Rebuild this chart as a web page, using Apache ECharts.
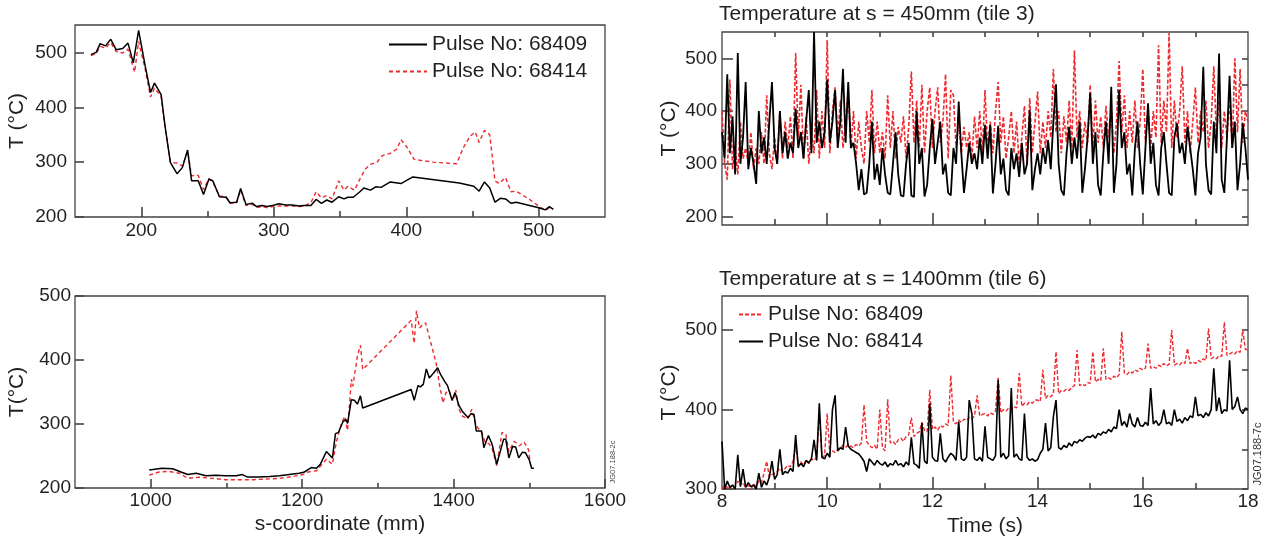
<!DOCTYPE html>
<html><head><meta charset="utf-8">
<script src="https://cdn.jsdelivr.net/npm/echarts@6/dist/echarts.min.js"></script>
<style>html,body{margin:0;padding:0;background:#fff}#c{width:1270px;height:545px}</style>
</head><body><div id="c"></div>
<script>
// ---------- Panel 1: s = 150..550 mm (tiles 1-4) ----------
const p1_68409 = [[162,496],[166,500],[169,516],[173,512],[177,524],[181,505],[186,507],[190,517],[194,481],[198,540],[203,475],[207,427],[210,444],[215,423],[218,365],[222,299],[227,279],[231,290],[235,322],[238,266],[243,266],[247,241],[251,269],[254,266],[259,237],[264,236],[267,226],[272,227],[275,252],[279,223],[284,225],[287,219],[291,221],[295,219],[299,221],[304,224],[309,222],[314,222],[319,220],[323,221],[328,221],[332,232],[336,225],[340,231],[344,227],[349,237],[353,233],[356,236],[360,236],[365,246],[368,253],[373,249],[377,255],[381,254],[388,264],[396,261],[405,273],[440,262],[451,256],[455,247],[459,264],[463,253],[467,227],[471,234],[475,233],[479,225],[483,227],[500,217],[505,213],[508,219],[511,214]];
const p1_68414 = [[162,494],[166,498],[169,511],[173,508],[177,518],[181,502],[186,499],[190,506],[195,464],[198,520],[203,469],[207,419],[210,435],[215,420],[218,362],[222,300],[227,298],[231,293],[235,320],[238,275],[243,276],[247,250],[251,270],[254,264],[259,238],[264,237],[267,225],[272,226],[275,249],[279,221],[284,223],[287,217],[291,219],[295,217],[299,219],[304,220],[309,220],[314,220],[319,219],[323,220],[328,226],[332,246],[336,235],[340,239],[344,233],[349,266],[353,249],[356,256],[361,249],[365,269],[369,287],[373,296],[378,300],[382,312],[388,316],[393,324],[396,341],[400,329],[406,305],[420,300],[438,297],[443,326],[448,347],[452,355],[455,336],[459,358],[463,350],[467,266],[470,261],[475,272],[479,246],[483,247],[493,232],[500,220],[505,212],[509,219]];

// ---------- Panel 2: s = 900..1600 mm ----------
const p2_68409 = [[998,228],[1015,231],[1029,230],[1040,225],[1049,221],[1060,223],[1073,219],[1086,220],[1099,219],[1113,219],[1121,221],[1128,217],[1143,217],[1157,218],[1170,219],[1183,221],[1196,223],[1203,225],[1212,232],[1219,231],[1224,237],[1232,257],[1240,247],[1244,285],[1248,287],[1254,304],[1258,307],[1260,301],[1265,338],[1269,337],[1273,331],[1277,344],[1280,325],[1344,354],[1348,337],[1353,360],[1356,358],[1360,362],[1364,386],[1368,372],[1373,379],[1379,388],[1383,377],[1388,367],[1392,360],[1398,337],[1402,349],[1407,329],[1412,319],[1419,310],[1423,316],[1427,315],[1430,289],[1437,289],[1440,263],[1446,282],[1451,268],[1457,237],[1466,276],[1469,276],[1473,247],[1478,265],[1482,264],[1486,247],[1491,256],[1495,255],[1500,244],[1503,231],[1506,231]];
const p2_68414 = [[998,220],[1011,225],[1024,226],[1038,223],[1049,215],[1064,217],[1082,215],[1099,213],[1117,213],[1135,213],[1152,214],[1170,215],[1188,218],[1201,221],[1208,225],[1219,227],[1224,234],[1232,245],[1240,237],[1245,271],[1251,297],[1256,312],[1260,290],[1265,370],[1267,359],[1269,357],[1273,406],[1277,423],[1280,385],[1344,462],[1348,426],[1351,477],[1355,450],[1358,454],[1363,458],[1370,427],[1377,395],[1381,364],[1386,333],[1390,349],[1394,353],[1399,336],[1403,353],[1407,323],[1412,312],[1419,308],[1424,323],[1430,297],[1437,287],[1442,271],[1447,269],[1451,261],[1457,235],[1464,287],[1469,284],[1473,257],[1480,273],[1487,266],[1493,272],[1499,260],[1502,234]];

// ---------- Time traces: samples every 0.05 s from t = 8 s ----------
const T0 = 8, DT = 0.05;
// s = 450 mm (tile 3)
const p3_68409 = [
360,310,470,320,390,280,510,300,350,455,290,330,300,262,400,320,350,300,380,455,
330,300,400,320,360,310,340,320,405,330,360,310,380,440,320,550,340,380,330,360,
460,340,380,440,330,380,480,340,455,330,340,300,250,290,242,245,300,380,270,300,
260,330,280,245,242,300,360,280,240,238,300,340,240,237,400,300,330,238,260,330,
385,300,340,380,280,300,245,240,330,300,418,320,245,290,340,300,320,290,350,300,
374,310,374,244,300,372,280,310,250,240,330,290,320,275,340,280,300,402,250,290,
320,280,330,300,345,290,380,451,300,250,240,320,370,300,350,310,380,245,290,350,
434,300,360,260,240,320,380,300,446,245,300,440,330,360,280,300,240,330,380,300,
242,330,415,300,340,260,240,330,360,300,245,240,350,377,320,340,300,370,330,290,
240,320,350,484,300,250,242,380,320,509,270,245,350,467,330,380,250,300,377,330,
270];
const p3_68414 = [
400,300,270,460,290,330,280,380,310,330,300,360,290,330,300,360,300,430,320,290,
350,300,400,310,380,330,390,310,510,350,450,310,390,300,360,320,440,310,400,330,
535,320,400,445,350,420,330,380,440,330,400,310,380,330,300,400,340,440,320,380,
320,360,310,430,330,400,310,370,340,390,310,370,475,340,420,330,450,320,400,445,
330,400,445,340,380,470,310,440,430,330,380,320,370,330,360,310,390,330,400,320,
440,330,380,320,400,455,340,390,310,350,400,320,380,300,350,410,300,425,320,380,
437,320,380,330,400,350,480,360,400,320,390,340,420,330,515,350,400,330,380,340,
450,330,420,340,390,330,410,350,400,320,380,495,360,430,330,400,340,420,330,380,
480,340,410,330,400,350,525,340,420,360,548,330,420,350,400,485,340,400,320,380,
445,340,400,360,420,330,380,485,350,420,330,400,350,420,330,500,360,480,340,400,
380];
// s = 1400 mm (tile 6)
const p4_68409 = [
300,305,302,300,305,302,310,305,308,302,305,300,306,303,310,308,320,335,315,318,
320,322,326,322,326,330,328,335,355,330,334,330,336,332,338,336,340,395,340,342,
395,344,348,346,350,352,355,352,356,354,352,356,354,358,406,360,355,352,355,350,
400,352,348,413,358,360,356,362,364,360,366,368,390,366,370,372,384,374,372,425,
375,378,374,380,378,382,380,443,384,382,387,384,388,386,390,388,392,418,392,394,
395,392,396,394,398,441,396,400,398,402,400,404,402,446,404,408,406,410,408,412,
412,410,450,414,418,416,420,473,420,424,423,426,424,428,430,475,430,432,430,434,
433,473,435,438,436,477,438,440,438,442,440,444,498,446,444,448,446,450,448,452,
450,452,483,452,454,452,456,454,458,455,457,500,456,458,456,460,458,477,458,460,
458,462,460,464,462,502,464,466,464,468,467,510,468,470,472,470,474,472,500,476,
475];
const p4_68414 = [
360,300,310,302,305,300,343,303,325,302,308,303,305,300,320,302,310,305,315,335,
312,318,350,318,322,320,326,322,368,328,332,328,336,333,338,362,336,408,340,338,
345,340,400,418,348,352,350,378,354,350,348,346,344,340,335,322,338,334,330,336,
332,330,334,328,332,330,336,330,332,328,334,330,365,332,330,326,383,335,332,408,
340,336,335,370,338,334,340,345,342,336,385,338,336,340,412,395,338,336,340,335,
379,340,338,336,342,437,340,345,338,342,427,340,344,338,336,395,340,336,338,335,
337,345,350,383,348,352,391,412,352,350,355,352,358,354,360,358,362,360,364,366,
365,368,364,370,368,372,370,375,372,378,376,400,380,385,378,395,382,378,390,380,
379,384,380,427,382,386,380,384,400,382,384,380,400,385,388,383,390,386,392,390,
416,392,394,390,396,392,400,452,398,415,395,400,398,462,400,404,416,400,395,402,
400];

function timed(vals){ return vals.map((v,i)=>[+(T0+i*DT).toFixed(2), v]); }

// axis tick / label lists
const p1XLabels=[200,300,400,500], p1XMinor=[250,350,450], p1YLabels=[200,300,400,500];
const p2XLabels=[1000,1200,1400,1600], p2XMinor=[1100,1300,1500], p2YLabels=[200,300,400,500];
const tXLabels=[8,10,12,14,16,18], tXMajor=[10,12,14,16], tXMinor=[9,11,13,15,17], tXTop=[9,10,11,12,13,14,15,16,17];
const p3YLabels=[200,300,400,500], p3YRight=[200,250,300,350,400,450,500];
const p4YLabels=[300,400,500], p4YRight=[300,350,400,450,500];

const FONT='Liberation Sans, Arial, Helvetica, sans-serif';
const TXT='#231f20';
const FRAME='#444444';
const RED='#ee2a2f';
const LS=19, NS=21;

function ax(grid,min,max,o){
  return Object.assign({type:'value',gridIndex:grid,min:min,max:max,
    axisLine:{show:false},splitLine:{show:false},
    axisLabel:{show:false},axisTick:{show:false}},o);
}
const lab=(vals,m)=>({show:true,customValues:vals,margin:m,fontSize:LS,color:TXT,fontFamily:FONT,formatter:v=>String(v)});
const tick=(vals,len,inside)=>({show:true,customValues:vals,length:len,inside:inside,lineStyle:{color:FRAME,width:1.6}});
const nameStyle={fontSize:NS,color:TXT,fontFamily:FONT};
const gridBox={show:true,borderColor:FRAME,borderWidth:1.3,backgroundColor:'transparent'};

const option={
  animation:false,
  backgroundColor:'#fff',
  textStyle:{fontFamily:FONT,color:TXT},
  grid:[
    Object.assign({left:75,top:25,width:530,height:192},gridBox),
    Object.assign({left:75,top:296,width:530,height:192},gridBox),
    Object.assign({left:722,top:32,width:526,height:193},gridBox),
    Object.assign({left:722,top:296,width:526,height:193},gridBox)
  ],
  xAxis:[
    ax(0,150,550,{position:'bottom',axisLabel:lab(p1XLabels,4),axisTick:tick(p1XLabels,10,true)}),
    ax(0,150,550,{position:'bottom',axisTick:tick(p1XMinor,6,true)}),
    ax(1,900,1600,{position:'bottom',axisLabel:lab(p2XLabels,3),axisTick:tick(p2XLabels,9,true),
      name:'s-coordinate (mm)',nameLocation:'middle',nameGap:26,nameTextStyle:nameStyle}),
    ax(1,900,1600,{position:'bottom',axisTick:tick(p2XMinor,5,true)}),
    ax(2,8,18,{position:'bottom',axisTick:tick(tXMajor,12,true)}),
    ax(2,8,18,{position:'bottom',axisTick:tick(tXMinor,6,true)}),
    ax(2,8,18,{position:'top',axisTick:tick(tXTop,5,true)}),
    ax(3,8,18,{position:'bottom',axisLabel:lab(tXLabels,3),axisTick:tick(tXMajor,12,true),
      name:'Time (s)',nameLocation:'middle',nameGap:27,nameTextStyle:nameStyle}),
    ax(3,8,18,{position:'bottom',axisTick:tick(tXMinor,6,true)})
  ],
  yAxis:[
    ax(0,200,550,{position:'left',axisLabel:lab(p1YLabels,8),axisTick:tick(p1YLabels,9,true),
      name:'T (°C)',nameLocation:'middle',nameGap:47,nameTextStyle:nameStyle}),
    ax(1,200,500,{position:'left',axisLabel:lab(p2YLabels,4),axisTick:tick(p2YLabels,9,true),
      name:'T(°C)',nameLocation:'middle',nameGap:47,nameTextStyle:nameStyle}),
    ax(2,184,550,{position:'left',axisLabel:lab(p3YLabels,5),axisTick:tick(p3YLabels,11,true),
      name:'T (°C)',nameLocation:'middle',nameGap:42,nameTextStyle:nameStyle}),
    ax(2,184,550,{position:'right',axisTick:tick(p3YRight,6,true)}),
    ax(3,300,543,{position:'left',axisLabel:lab(p4YLabels,5),axisTick:tick(p4YLabels,11,true),
      name:'T (°C)',nameLocation:'middle',nameGap:42,nameTextStyle:nameStyle}),
    ax(3,300,543,{position:'right',axisTick:tick(p4YRight,6,true)})
  ],
  title:[
    {text:'Temperature at s = 450mm (tile 3)',left:719,top:4,padding:0,textStyle:{fontSize:NS,fontWeight:'normal',color:TXT,fontFamily:FONT}},
    {text:'Temperature at s = 1400mm (tile 6)',left:719,top:269,padding:0,textStyle:{fontSize:NS,fontWeight:'normal',color:TXT,fontFamily:FONT}}
  ],
  legend:[
    {data:['a68409','a68414'],orient:'vertical',left:388,top:34,padding:0,itemWidth:38,itemHeight:14,itemGap:6,
      itemStyle:{opacity:0},
      formatter:n=>'Pulse No: '+n.slice(1),textStyle:{fontSize:NS,color:TXT,fontFamily:FONT}},
    {data:['b68409','b68414'],orient:'vertical',left:738,top:304,padding:0,itemWidth:24,itemHeight:14,itemGap:6,
      itemStyle:{opacity:0},
      formatter:n=>'Pulse No: '+n.slice(1),textStyle:{fontSize:NS,color:TXT,fontFamily:FONT}}
  ],
  graphic:[
    {type:'text',x:613,y:462,rotation:Math.PI/2,style:{text:'JG07.188-2c',fontSize:7.5,fill:'#444',fontFamily:FONT,align:'center',verticalAlign:'middle'}},
    {type:'text',x:1258,y:454,rotation:Math.PI/2,style:{text:'JG07.188-7c',fontSize:11,fill:'#333',fontFamily:FONT,align:'center',verticalAlign:'middle'}}
  ],
  series:[
    {name:'a68414',type:'line',xAxisIndex:0,yAxisIndex:0,data:p1_68414,symbol:'none',color:RED,lineStyle:{color:RED,width:1.4,type:[4,3]}},
    {name:'a68409',type:'line',xAxisIndex:0,yAxisIndex:0,data:p1_68409,symbol:'none',color:'#000',lineStyle:{color:'#000',width:1.5}},
    {name:'a68414',type:'line',xAxisIndex:2,yAxisIndex:1,data:p2_68414,symbol:'none',color:RED,lineStyle:{color:RED,width:1.4,type:[4,3]}},
    {name:'a68409',type:'line',xAxisIndex:2,yAxisIndex:1,data:p2_68409,symbol:'none',color:'#000',lineStyle:{color:'#000',width:1.5}},
    {name:'c68414',type:'line',xAxisIndex:4,yAxisIndex:2,data:timed(p3_68414),symbol:'none',color:RED,lineStyle:{color:RED,width:1.6,type:[4,2]}},
    {name:'c68409',type:'line',xAxisIndex:4,yAxisIndex:2,data:timed(p3_68409),symbol:'none',color:'#000',lineStyle:{color:'#000',width:1.8}},
    {name:'b68409',type:'line',xAxisIndex:7,yAxisIndex:4,data:timed(p4_68409),symbol:'none',color:RED,lineStyle:{color:RED,width:1.4,type:[4,2]}},
    {name:'b68414',type:'line',xAxisIndex:7,yAxisIndex:4,data:timed(p4_68414),symbol:'none',color:'#000',lineStyle:{color:'#000',width:1.6}}
  ]
};
const chart=echarts.init(document.getElementById('c'),null,{renderer:'canvas'});
chart.setOption(option);
</script></body></html>
